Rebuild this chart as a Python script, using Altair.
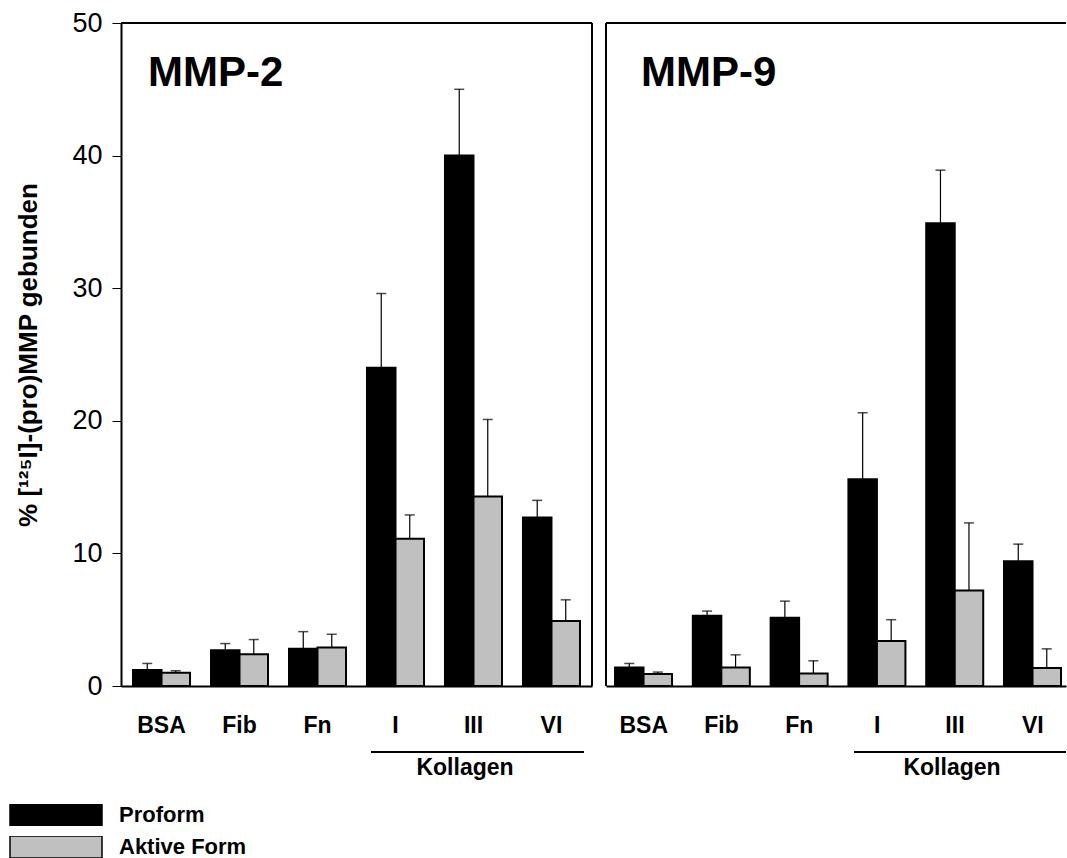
import altair as alt
import pandas as pd

FONT = "Liberation Sans"

categories = ["BSA", "Fib", "Fn", "I", "III", "VI"]
series = ["Proform", "Aktive Form"]
series_colors = ["#000000", "#c0c0c0"]

mmp2_pro = [1.2, 2.7, 2.8, 24.0, 40.0, 12.7]
mmp2_pro_err = [0.5, 0.5, 1.3, 5.6, 5.0, 1.3]
mmp2_akt = [1.0, 2.4, 2.9, 11.1, 14.3, 4.9]
mmp2_akt_err = [0.15, 1.1, 1.0, 1.8, 5.8, 1.6]

mmp9_pro = [1.4, 5.3, 5.15, 15.6, 34.9, 9.4]
mmp9_pro_err = [0.3, 0.35, 1.25, 5.0, 4.0, 1.3]
mmp9_akt = [0.9, 1.4, 0.95, 3.4, 7.2, 1.35]
mmp9_akt_err = [0.15, 0.95, 0.95, 1.6, 5.1, 1.45]

y_ticks = [0, 10, 20, 30, 40, 50]
panel_titles = ["MMP-2", "MMP-9"]
group_label = "Kollagen"
y_title = "% [¹²⁵I]-(pro)MMP gebunden"

H = 663


def make_df(pro, pro_err, akt, akt_err):
    rows = []
    for i, c in enumerate(categories):
        rows.append({"category": c, "series": series[0], "value": pro[i], "upper": pro[i] + pro_err[i]})
        rows.append({"category": c, "series": series[1], "value": akt[i], "upper": akt[i] + akt_err[i]})
    return pd.DataFrame(rows)


def panel(df, title, width, pad_outer, pad_inner, align, left, line_x, line_x2, label_x, title_x):
    x = alt.X(
        "category:N", sort=categories, title=None,
        scale=alt.Scale(paddingOuter=pad_outer, paddingInner=pad_inner, align=align),
        axis=alt.Axis(labelAngle=0, ticks=False, domainColor="black", domainWidth=2,
                      labelFont=FONT, labelFontSize=23, labelFontWeight="bold",
                      labelColor="black", labelPadding=28),
    )
    xo = alt.XOffset("series:N", sort=series, scale=alt.Scale(paddingInner=0, paddingOuter=0))
    if left:
        yaxis = alt.Axis(values=y_ticks, grid=False, title=y_title, tickSize=9, tickColor="black",
                         tickWidth=1, domainColor="black", domainWidth=2, labelFont=FONT,
                         labelFontSize=27, labelColor="black", labelPadding=10,
                         titleFont=FONT, titleFontSize=26, titleFontWeight="bold",
                         titleColor="black", titlePadding=30)
    else:
        yaxis = None
    yscale = alt.Scale(domain=[0, 50], nice=False)
    if left:
        legend = alt.Legend(orient="none", legendX=-112, legendY=781, title=None,
                            symbolType="M-1,-0.24H1V0.24H-1Z", symbolSize=8464,
                            symbolStrokeColor="black", symbolStrokeWidth=1.5,
                            labelFont=FONT, labelFontSize=22, labelFontWeight="bold",
                            labelColor="black", clipHeight=22, rowPadding=10,
                            labelOffset=16, padding=0, direction="vertical")
    else:
        legend = None
    color_kw = dict(sort=series, scale=alt.Scale(domain=series, range=series_colors))
    if legend is not None:
        color = alt.Color("series:N", legend=legend, **color_kw)
    else:
        color = alt.Color("series:N", legend=None, **color_kw)

    base = alt.Chart(df)
    bars = base.mark_bar(stroke="black", strokeWidth=2).encode(
        x=x, xOffset=xo, y=alt.Y("value:Q", scale=yscale, axis=yaxis), color=color)
    whisk = base.mark_rule(color="black", strokeWidth=1.2).encode(
        x=x, xOffset=xo, y=alt.Y("value:Q", scale=yscale, axis=yaxis), y2="upper:Q")
    caps = base.mark_tick(color="black", thickness=1.5, size=10).encode(
        x=x, xOffset=xo, y=alt.Y("upper:Q", scale=yscale, axis=yaxis))

    one = alt.Chart(pd.DataFrame({"label": [group_label], "title": [title]}))
    top_line = one.mark_rule(color="black", strokeWidth=2).encode(
        x=alt.value(0), x2=alt.value(width), y=alt.value(0))
    if left:
        side_line = one.mark_rule(color="black", strokeWidth=2).encode(
            x=alt.value(width), y=alt.value(0), y2=alt.value(H))
    else:
        side_line = one.mark_rule(color="black", strokeWidth=2).encode(
            x=alt.value(0), y=alt.value(0), y2=alt.value(H))
    underline = one.mark_rule(color="black", strokeWidth=2).encode(
        x=alt.value(line_x), x2=alt.value(line_x2), y=alt.value(H + 66))
    group_text = one.mark_text(font=FONT, fontSize=23, fontWeight="bold", color="black",
                               align="center", baseline="alphabetic").encode(
        x=alt.value(label_x), y=alt.value(752), text="label:N")
    title_text = one.mark_text(font=FONT, fontSize=42, fontWeight="bold", color="black",
                               align="left", baseline="alphabetic").encode(
        x=alt.value(title_x), y=alt.value(63), text="title:N")

    return alt.layer(bars, whisk, caps, top_line, side_line, underline, group_text, title_text).properties(
        width=width, height=H)


left = panel(make_df(mmp2_pro, mmp2_pro_err, mmp2_akt, mmp2_akt_err), panel_titles[0],
             471, 0.154, 0.269, 0.5, True, 250, 463, 344, 27)
right = panel(make_df(mmp9_pro, mmp9_pro_err, mmp9_akt, mmp9_akt_err), panel_titles[1],
              460, 0.087, 0.261, 0.667, False, 248, 460, 346, 35)

chart = alt.hconcat(left, right, spacing=14, bounds="flush").resolve_scale(
    x="independent", y="independent", color="independent"
).resolve_legend(color="independent").properties(
    padding={"left": 9, "top": 9, "right": 0, "bottom": 0},
    background="white",
).configure(font=FONT).configure_view(strokeWidth=0)

chart.save("out.html", embed_options={"renderer": "svg", "actions": False})
